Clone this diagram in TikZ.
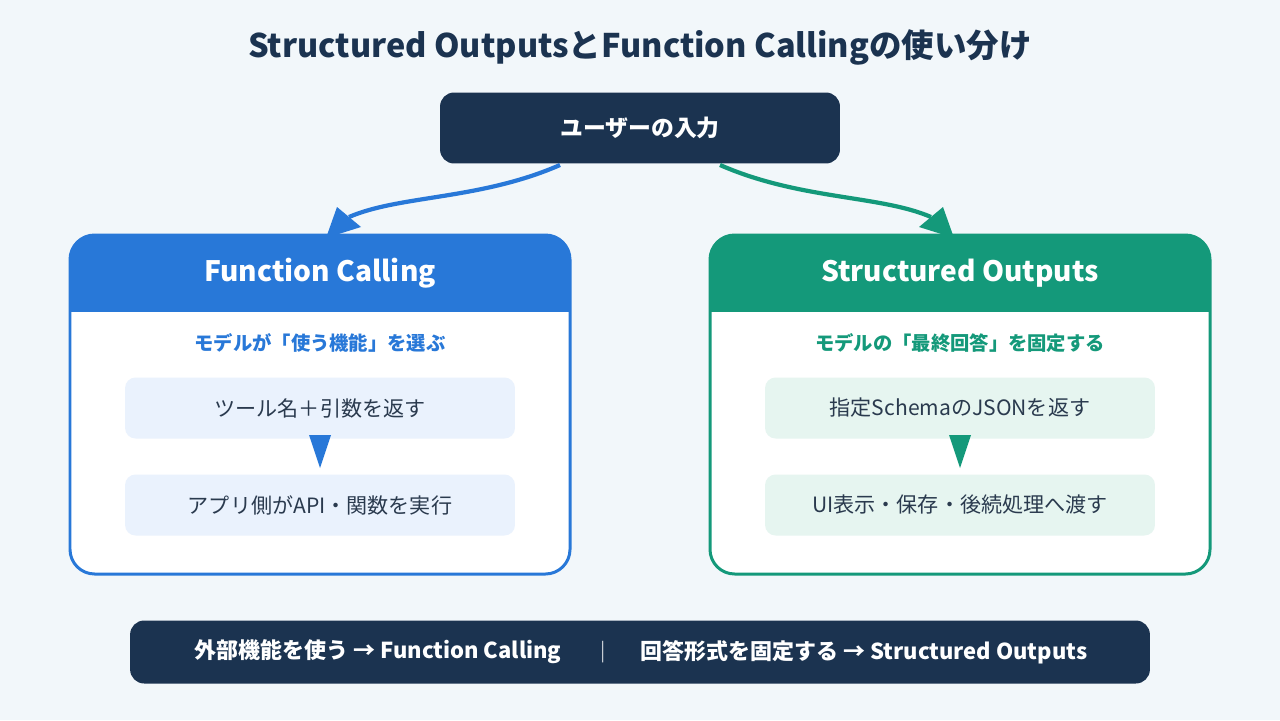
\documentclass[tikz,border=0pt]{standalone}
\usepackage{fontspec}
\setmainfont{Noto Sans CJK JP}
\usetikzlibrary{positioning,arrows.meta}
\definecolor{navy}{HTML}{1B3350}
\definecolor{fcblue}{HTML}{2878D8}
\definecolor{sogreen}{HTML}{14997A}
\definecolor{bgc}{HTML}{F2F7FA}
\definecolor{fcpale}{HTML}{EAF2FD}
\definecolor{sopale}{HTML}{E6F5F0}
\definecolor{ink}{HTML}{2A3A4E}
\tikzset{
  px/.style={x=0.02cm,y=-0.02cm},
  card/.style={rounded corners=14pt,line width=1.7pt},
  stepbox/.style={rounded corners=6pt,minimum width=7.8cm,minimum height=1.22cm,text=ink,font=\fontsize{12}{14}\selectfont},
  flow/.style={line width=2.4pt},
}
\begin{document}
\begin{tikzpicture}[px]
\fill[bgc] (0,0) rectangle (1280,720);

\node[text=navy,font=\bfseries\fontsize{18.5}{21}\selectfont] (title) at (640,47) {Structured OutputsとFunction Callingの使い分け};

\node[fill=navy,rounded corners=8pt,minimum width=8cm,minimum height=1.42cm,text=white,font=\bfseries\fontsize{13}{15}\selectfont] (user) at (640,128) {ユーザーの入力};

% left card
\fill[white,rounded corners=14pt] (70,235) rectangle (570,574);
\fill[fcblue] (70,311) {[rounded corners=14pt] -- (70,235) -- (570,235)} -- (570,311) -- cycle;
\draw[card,draw=fcblue] (70,235) rectangle (570,574);
\draw[fcblue,line width=1.7pt] (70,311) -- (570,311);
\node[text=white,font=\bfseries\fontsize{16}{18}\selectfont] (fc) at (320,273) {Function Calling};
\node[text=fcblue,font=\bfseries\fontsize{11}{13}\selectfont] (fcsub) at (320,343) {モデルが「使う機能」を選ぶ};
\node[stepbox,fill=fcpale] (fc1) at (320,408) {ツール名＋引数を返す};
\node[stepbox,fill=fcpale] (fc2) at (320,505) {アプリ側がAPI・関数を実行};
\fill[fcblue] (309,435) -- (331,435) -- (320,468) -- cycle;

% right card
\fill[white,rounded corners=14pt] (710,235) rectangle (1210,574);
\fill[sogreen] (710,311) {[rounded corners=14pt] -- (710,235) -- (1210,235)} -- (1210,311) -- cycle;
\draw[card,draw=sogreen] (710,235) rectangle (1210,574);
\draw[sogreen,line width=1.7pt] (710,311) -- (1210,311);
\node[text=white,font=\bfseries\fontsize{16}{18}\selectfont] (so) at (960,273) {Structured Outputs};
\node[text=sogreen,font=\bfseries\fontsize{11}{13}\selectfont] (sosub) at (960,343) {モデルの「最終回答」を固定する};
\node[stepbox,fill=sopale] (so1) at (960,408) {指定SchemaのJSONを返す};
\node[stepbox,fill=sopale] (so2) at (960,505) {UI表示・保存・後続処理へ渡す};
\fill[sogreen] (949,435) -- (971,435) -- (960,468) -- cycle;

% arrows
\coordinate (ul) at (560,165);
\coordinate (ur) at (720,165);
\coordinate (fctip) at (349,217);
\coordinate (sotip) at (931,217);
\draw[flow,fcblue] (ul) .. controls (480,200) and (400,195) .. (fctip);
\fill[fcblue] (326,238) -- (337,207) -- (361,227) -- cycle;
\draw[flow,sogreen] (ur) .. controls (800,200) and (880,195) .. (sotip);
\fill[sogreen] (954,238) -- (943,207) -- (919,227) -- cycle;

% bottom bar
\node[fill=navy,rounded corners=8pt,minimum width=20.4cm,minimum height=1.26cm] (bar) at (640,652) {};
\node[text=white,font=\bfseries\fontsize{12.5}{14}\selectfont] (barl) at (378,652) {外部機能を使う → Function Calling};
\node[text=white!75!navy,font=\fontsize{11}{13}\selectfont] (sep) at (603,652) {|};
\node[text=white,font=\bfseries\fontsize{12.5}{14}\selectfont] (barr) at (864,652) {回答形式を固定する → Structured Outputs};
\end{tikzpicture}
\end{document}
